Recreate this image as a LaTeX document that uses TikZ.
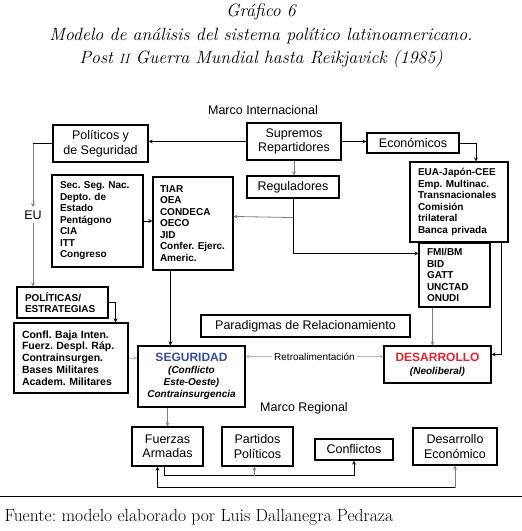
\documentclass[tikz,border=0pt]{standalone}
\usepackage{fontspec}
\usepackage{xcolor}
\usepackage{tikz}
\usetikzlibrary{arrows, positioning, calc}
\newfontfamily\arialfont{Liberation Sans}
\definecolor{segblue}{RGB}{55,75,160}
\definecolor{desred}{RGB}{228,35,45}
\frenchspacing

\begin{document}
\begin{tikzpicture}[x=1pt, y=-1pt]
\tikzstyle{box} = [rectangle, draw, line width=1.1pt, inner sep=0pt, align=center, font=\arialfont\fontsize{12.5}{14.5}\selectfont]
\tikzstyle{listbox} = [rectangle, draw, line width=1.1pt, inner xsep=8pt, inner ysep=0pt, align=left, font=\arialfont\bfseries\fontsize{10}{11.5}\selectfont]
\tikzstyle{heading} = [font=\arialfont\fontsize{12.5}{14}\selectfont]
\tikzstyle{arrow} = [->, >=stealth, line width=0.8pt]
\tikzstyle{soft} = [draw=gray]
\tikzstyle{pale} = [draw=gray!55]

\useasboundingbox (0,0) rectangle (522,531);

% title
\node (t1) at (261,12) {\fontsize{17.8}{20}\selectfont\itshape Gráfico 6};
\node (t2) at (261,36) {\fontsize{17.8}{20}\selectfont\itshape Modelo de análisis del sistema político latinoamericano.};
\node (t3) at (261,59) {\fontsize{17.8}{20}\selectfont\itshape Post {\fontsize{13.5}{14}\selectfont II} Guerra Mundial hasta Reikjavick (1985)};

% marco internacional
\node (mi) [heading] at (263,110) {Marco Internacional};
\node (pol) [box, minimum width=95pt, minimum height=37pt] at (100.5,143.5) {Políticos y\\de Seguridad};
\node (sup) [box, minimum width=94pt, minimum height=37pt] at (294,141.5) {Supremos\\Repartidores};
\node (eco) [box, minimum width=92pt, minimum height=20pt] at (413,143) {Económicos};
\node (reg) [box, minimum width=92pt, minimum height=22pt] at (293,187) {Reguladores};
\node (eu) [heading] at (33,215) {EU};
\node (sec) [listbox, text width=75pt, minimum height=92pt] at (97.5,221) {Sec. Seg. Nac.\\Depto. de\\Estado\\Pentágono\\CIA\\ITT\\Congreso};
\node (tiar) [listbox, inner xsep=7pt, text width=66pt, minimum height=93pt] at (193,223.5) {TIAR\\OEA\\CONDECA\\OECO\\JID\\Confer. Ejerc.\\Americ.};
\node (eua) [listbox, text width=82pt, minimum height=80pt] at (459,202) {EUA-Japón-CEE\\Emp. Multinac.\\Transnacionales\\Comisión\\trilateral\\Banca privada};
\node (fmi) [listbox, text width=55pt, minimum height=64pt] at (454.5,275) {FMI/BM\\BID\\GATT\\UNCTAD\\ONUDI};
\node (polest) [listbox, text width=75pt, minimum height=31pt] at (62.5,302.5) {POLÍTICAS/\\ESTRATEGIAS};
\node (confl) [listbox, text width=98pt, minimum height=70pt, font=\arialfont\bfseries\fontsize{10.5}{11.8}\selectfont] at (71,358) {Confl. Baja Inten.\\Fuerz. Despl. Ráp.\\Contrainsurgen.\\Bases Militares\\Academ. Militares};
\node (para) [box, minimum width=209pt, minimum height=22pt] at (305.5,326) {Paradigmas de Relacionamiento};
\node (seg) [box, minimum width=107pt, minimum height=61pt, font=\arialfont\bfseries\itshape\fontsize{10}{11.8}\selectfont] at (191.5,376.5) {{\upshape\color{segblue}\fontsize{12}{14}\selectfont SEGURIDAD}\\(Conflicto\\Este-Oeste)\\Contrainsurgencia};
\node (des) [box, minimum width=107pt, minimum height=37pt, font=\arialfont\bfseries\itshape\fontsize{10}{13}\selectfont] at (437.5,364.5) {{\upshape\color{desred}\fontsize{12}{14}\selectfont DESARROLLO}\\(Neoliberal)};

% marco regional
\node (mr) [heading] at (304,408) {Marco Regional};
\node (fa) [box, minimum width=71pt, minimum height=39pt] at (167.5,446.5) {Fuerzas\\Armadas};
\node (pp) [box, minimum width=71pt, minimum height=39pt] at (257.5,446.5) {Partidos\\Políticos};
\node (conf) [box, minimum width=78pt, minimum height=21pt] at (354,449.5) {Conflictos};
\node (de) [box, minimum width=84pt, minimum height=37pt] at (455,446.5) {Desarrollo\\Económico};

% connectors
\draw [arrow] (sup.west) -- (sup.west -| pol.east);
\draw [arrow] (sup.east) -- (sup.east -| eco.west);
\draw [arrow] (eco.east) -| ($(eua.north)+(17,0)$);
\draw [arrow, soft] (sup.south) -- (sup.south |- reg.north);
\draw [arrow] (reg.south) |- ($(fmi.north west)+(0,11)$);
\draw [arrow, soft] ($(reg.south)+(0,19)$) -- ($(tiar.north east)+(0,40)$);
\draw [arrow] (sec.east) -- (sec.east -| tiar.west);
\coordinate (tiarout) at ($(tiar.south west)+(18,0)$);
\draw [arrow] (tiarout) -- (tiarout |- seg.north);
\draw (pol.west) -- (pol.west -| eu.north);
\draw [arrow, soft] (pol.west -| eu.north) -- (eu.north);
\draw [arrow, soft] (eu.south) -- (eu.south |- polest.north);
\coordinate (conflin) at ($(confl.north east)+(-13,0)$);
\draw [arrow] (polest.east) -| (conflin);
\draw [arrow, pale] (confl.east) -- (confl.east -| seg.west);
\coordinate (retro) at ($(seg.north east)+(0,11)$);
\draw [<->, >=stealth, line width=0.8pt, pale] (retro) -- (retro -| des.west)
  node [midway, fill=white, inner sep=2pt, text=black, font=\arialfont\fontsize{10}{12}\selectfont] {Retroalimentación};
\coordinate (fmiout) at ($(fmi.south west)+(14,0)$);
\draw [arrow, soft] (fmiout) -- (fmiout |- des.north);
\coordinate (euaout) at ($(eua.south east)+(-7,0)$);
\draw [arrow] (euaout) |- ($(des.north east)+(0,9)$);
\draw [arrow, soft] (fa.north |- seg.south) -- (fa.north);
\coordinate (faout) at ($(fa.south)+(-3,0)$);
\coordinate (bus1) at ($(fa.south)+(-3,9)$);
\draw [arrow] (faout) -- (bus1) -| (conf.south);
\draw [arrow, soft] ($(pp.south)+(-3,9)$) -- ($(pp.south)+(-3,0)$);
\coordinate (fain) at ($(fa.south)+(-10,0)$);
\coordinate (bus2) at ($(fa.south)+(-10,21)$);
\draw [arrow] (bus2) -- (fain);
\draw (bus2) -- (bus2 -| de.south);
\draw [arrow, soft] (bus2 -| de.south) -- (de.south);

% source
\draw [line width=0.9pt] (0,496) -- (522,496);
\node (src) [anchor=west, font=\fontsize{17.6}{19}\selectfont] at (1,517) {Fuente: modelo elaborado por Luis Dallanegra Pedraza};

\end{tikzpicture}
\end{document}
